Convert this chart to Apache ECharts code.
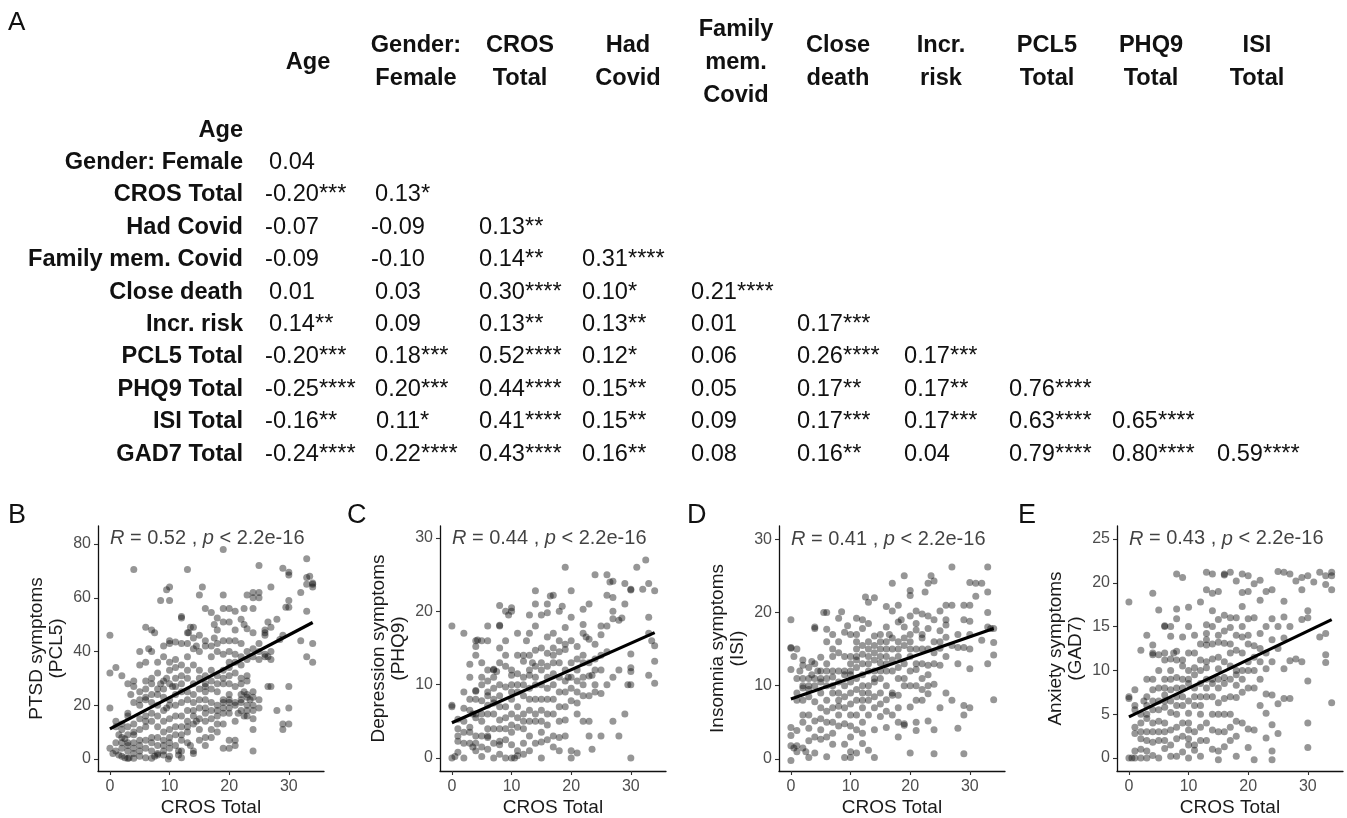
<!DOCTYPE html>
<html><head><meta charset="utf-8">
<script src="https://cdn.jsdelivr.net/npm/echarts@6/dist/echarts.min.js"></script>
<style>html,body{margin:0;padding:0;background:#fff}#c{width:1347px;height:818px}</style>
</head><body><div id="c"></div>
<script>
// ---------- Table data ----------
const rowLabels = ['Age','Gender: Female','CROS Total','Had Covid','Family mem. Covid','Close death','Incr. risk','PCL5 Total','PHQ9 Total','ISI Total','GAD7 Total'];
const colHeaders = ['Age','Gender:\nFemale','CROS\nTotal','Had\nCovid','Family\nmem.\nCovid','Close\ndeath','Incr.\nrisk','PCL5\nTotal','PHQ9\nTotal','ISI\nTotal'];
const corrValues = [
  [],
  ['0.04'],
  ['-0.20','0.13'],
  ['-0.07','-0.09','0.13'],
  ['-0.09','-0.10','0.14','0.31'],
  ['0.01','0.03','0.30','0.10','0.21'],
  ['0.14','0.09','0.13','0.13','0.01','0.17'],
  ['-0.20','0.18','0.52','0.12','0.06','0.26','0.17'],
  ['-0.25','0.20','0.44','0.15','0.05','0.17','0.17','0.76'],
  ['-0.16','0.11','0.41','0.15','0.09','0.17','0.17','0.63','0.65'],
  ['-0.24','0.22','0.43','0.16','0.08','0.16','0.04','0.79','0.80','0.59']
];
const corrStars = [
  [],
  [''],
  ['***','*'],
  ['','','**'],
  ['','','**','****'],
  ['','','****','*','****'],
  ['**','','**','**','','***'],
  ['***','***','****','*','','****','***'],
  ['****','***','****','**','','**','**','****'],
  ['**','*','****','**','','***','***','****','****'],
  ['****','****','****','**','','**','','****','****','****']
];

// ---------- Scatter panels ----------
const panelLetters = ['B','C','D','E'];
const yTitles = ['PTSD symptoms\n(PCL5)','Depression symptoms\n(PHQ9)','Insomnia symptoms\n(ISI)','Anxiety symptoms\n(GAD7)'];
const xTitle = 'CROS Total';
const xTicks = [0,10,20,30];
const yTicksB = [0,20,40,60,80];
const yTicksC = [0,10,20,30];
const yTicksD = [0,10,20,30];
const yTicksE = [0,5,10,15,20,25];
const rValues = ['0.52','0.44','0.41','0.43'];
const pText = '2.2e-16';
const annotY = [82.2, 30, 30, 25];

const fitB = [[0,11.2],[34,50.8]];
const fitC = [[0,4.8],[34,17.1]];
const fitD = [[0,8.2],[34,17.8]];
const fitE = [[0,4.7],[34,15.8]];

const pclPoints = [[19,78],[4,70.5],[13,70.5],[25,72],[33,74.5],[29,71],[30,69.5],[30,68.5],[33,67.5],[33.5,68],[34,65.5],[34,65],[33,65],[32,62],[30,59],[30,56.5],[29.5,56.5],[34,64],[33,55],[34,43],[34,36],[33,38],[32,44],[27,64],[25,62],[24,62],[23,61],[24,60],[25,60],[24,56],[22.5,56],[22,52],[21,55],[20,56],[19,56],[19,61],[15,61],[15.5,64],[10,64],[9.5,63],[8.5,59],[10,59],[12,52.5],[12,53],[13.5,49],[14,49],[13,47],[13.2,47],[16,56],[17,54.5],[18,52.5],[17.5,50],[18,48],[19,51],[20,51],[21,48],[22.5,50],[23,48.5],[24,47],[26,47],[26,48],[26.5,51],[27,49],[28,52],[28.5,44.5],[29,46],[26,46],[25,43],[24,41],[23,40],[22,43],[21,44],[20,44],[19,44],[18,43],[17.5,45],[17,42],[16,42],[15,40],[14.5,42],[14,41],[13,43],[12,43],[11,43.5],[10,44],[10,43],[9,42],[7,48],[7.5,47],[6,49],[6.5,41],[7,40],[5,40],[0,46],[0,32],[1,34],[2,31],[3,28],[4,29],[4,27],[3.5,24],[5,25],[6,23],[6,29],[7,30],[7,28],[8,32],[8.5,28],[9,29],[10,28],[10.5,27],[11,27],[9.5,30],[12,35],[14,35],[15,33],[16,31],[16,28],[17,33],[18,31],[19,30],[20,31],[20,36],[21,32],[22,30],[23,31],[23,29],[22,28],[21,27],[20,28],[19,28],[18,25],[17,26],[16,25],[15,22],[14,21],[13,22],[12,21],[11,20],[10,20],[9.5,19],[9,18],[8,20],[7,21],[6,22],[5,20],[4,21],[3,17],[3,16],[2,13],[1,14],[0,19],[0,4],[0.5,2],[1,3],[1.5,1.5],[2,1],[2.5,0.5],[3,0.2],[3.2,0.5],[4,0.3],[5,1],[6,0.5],[7,0.3],[7.5,1],[8,2],[9,3],[9.8,0],[10,4],[11,5],[11.5,3],[12,3],[12,0.5],[11.5,1.5],[10,1],[9,1.5],[8,1.5],[7,3],[6,4],[5,5],[4,6],[3,6],[2.5,7.5],[2,8],[1.5,9],[1,12],[3,9],[4,9],[4,10],[5,11],[6,12],[7,14],[8,12],[9,10],[10,11],[11,12],[12,12],[13,14],[14,13],[14.5,14],[15,11],[16,14],[16,8],[15,7],[14,3],[13.5,5],[13,10],[13,6],[14,2],[16,5],[17,11],[18,13],[18,16],[17,18],[16,17],[15,19],[19,17],[19,21],[20,19],[20,17],[21,14],[21.5,17],[22,21],[22.5,16],[23,18],[23,24],[23.5,22],[24,20],[24,25],[23,20],[22.5,25],[24,15],[24,11],[24,3],[20,7],[21,7],[21,5],[20,4],[19,4],[25,19],[27,40],[27,37],[26.5,38],[27,27],[26.5,27],[28,18],[29,11],[29,13],[30,13],[30,19],[30,27],[5,35],[6,36],[8,36],[9,38],[11,37],[13,38],[14,45],[15,46],[16,44],[17,38],[18,40],[19,39],[20,40],[21,39],[22,38],[25,37],[26,38],[26,39],[15,30],[14,28],[13,30],[12,25],[11,24],[10,22],[9,23],[8,24],[7,17],[6,16],[5,15],[4,13],[3,12],[2,11],[18,20],[19,22],[20,24],[17,21],[16,22],[22,22],[23,16],[24,23],[25,22],[9,7],[8,8],[10,8],[12,7],[7,8],[5,7],[4,4],[3,5],[2,4],[18,10],[17,8],[19,13],[1,6],[2,6],[3,3],[4,2],[5,3],[6,7],[7,6],[8,5],[9,5],[10,6],[11,9],[12,9],[13,12],[14,16],[15,15],[16,19],[17,15],[18,18],[19,19],[20,22],[21,21],[22,24],[23,23],[24,18],[22,18],[21,20],[20,21],[13,25],[12,28],[11,30],[10,33],[9,26],[8,26],[7,24],[6,26],[5,22],[14,24],[15,26],[16,27],[17,29],[18,28],[19,33],[20,34],[21,36],[22,35],[23,37],[24,38],[25,40],[13,33],[12,31],[11,34],[10,36],[6,14],[8,16],[9,14],[10,15],[11,16],[12,16],[13,18],[14,18]];

const phqPoints = [[0,18],[0,7.2],[0,7],[0,0],[0.5,0.2],[1,0.8],[1,2.3],[1,3],[1,5.3],[2,17],[2,0],[2,2],[2,3.5],[2,6.8],[3,11],[3,12.8],[3,4.2],[3,3.5],[3,2],[3.5,1.5],[3.5,6],[4,14],[4,15.2],[4,16],[4.3,16.1],[4,9.2],[4,9.1],[4,8],[4,5.5],[4,3],[4,2],[4,1],[5,16],[5,11],[5,10],[5,7.8],[5,5],[5,3],[5,0.2],[6,18],[6,16],[6,12],[6,10.5],[6,7.2],[6,6],[6,4],[6,2.8],[6,1.2],[7,12],[7,12.1],[7,9.5],[7,7.5],[7,6],[7,4],[7,0],[7.5,11.8],[8,20.8],[8,18],[8,18.1],[8,13],[8,10],[8,7],[8,4],[8,1.8],[8,2.3],[8,5.2],[9,20],[9,16],[9,12.5],[9,9.7],[9,5.5],[9,2.5],[9,0],[9.5,19.5],[10,20.5],[10,20],[10,12],[10,11.3],[10,10],[10,8],[10,6],[10,3.5],[10,1.8],[10,0],[10.5,0],[11,14],[11,11.5],[11,9],[11,7],[11,4.2],[11,1],[11,0.3],[12,14],[12,13.2],[12,8.5],[12,6],[12,4],[12,2],[12.5,16],[13,19.5],[13,17],[13,14],[13,11.3],[13,8],[13,5],[13,3],[13.5,13],[14,22.8],[14,21],[14,18],[14,14.7],[14,11],[14,8],[14,5],[14,2],[15,19.5],[15,15],[15,12],[15,10],[15,8],[15,5],[15,2.2],[15,0],[16,21],[16,19.8],[16,14.3],[16,11],[16,8],[16,6],[16,4.5],[16.5,22.1],[17,22.2],[17,17],[17,15],[17,13],[17,10],[17,6],[17,3],[18,20],[18,16],[18,13],[18,9],[18,7],[18,5],[18,2.8],[18.5,20.7],[19,26],[19,17.8],[19,14.8],[19,12],[19,7],[19,5.2],[19.5,11],[20,22.8],[20,19.2],[20,13],[20,7.8],[20,1],[20,0],[21,15.2],[21,12],[21,9],[21,6],[21,0.7],[22,20.3],[22,18.2],[22,17],[22,13],[22,8.5],[22,5],[22.5,16.5],[23,21],[23,16.2],[23,11.2],[23,8.5],[23,5],[23,3],[23.5,11.3],[23.5,1.2],[24,25],[24,15.5],[24,10],[24,9],[25,18],[25,16.8],[25,8.8],[25,3],[26,25],[26,22.2],[26,18],[26,14.5],[26.5,24],[27,24.1],[27,21.9],[27,20],[27,19],[27,11],[27,5],[28,18.8],[28,3],[28.5,19.1],[29,23.8],[29,21],[29,6],[29.5,10],[30,23],[30,22.9],[30,14.2],[30,11.8],[30,12.3],[30,10],[30,0],[31,26],[32,23],[32.5,27],[33,23.8],[33,19.2],[33,17],[33,11.3],[33.5,16],[34,22.8],[34,15.3],[34,13.2],[34,10.2],[2,9],[3,8],[5,13],[6,8.5],[7,11],[8,15],[9,14],[11,17],[12,10],[13,9.5],[14,12.5],[15,6.5],[16,16.5],[17,11.5],[18,11],[19,9],[20,16],[21,10.5],[22,11],[24,13.5],[25,12],[26,10],[28,12],[1,4],[2,5],[3,6.5],[4,6],[5,6],[6,9],[7,8],[8,8.5],[9,7],[10,9],[11,10],[12,11],[13,12],[14,10],[15,13],[16,12.5],[17,14],[18,14.5],[19,15.5],[20,11],[21,13.5],[22,14],[23,13],[24,12],[25,14],[9,4],[10,4.5],[11,5.5],[12,5],[13,6.5],[14,6],[15,3.5],[16,2.5],[17,1.5],[18,1],[19,3],[7,2],[6,3],[5,1.5],[8,0.5],[12,0.5],[13,1],[20,9.5],[21,7.5],[22,10],[19,10.5],[17,8],[16,9.5]];

const isiPoints = [[0,19],[0,15.2],[0,15.1],[0,12.2],[0,4.3],[0,3.2],[0,1.8],[0,-0.2],[0.5,14],[0.5,1.5],[1,15],[1,9],[1,8],[1,3.9],[1,1.8],[1,1],[1.5,12],[2,12.8],[2,10],[2,9.7],[2,8],[2,6],[2,5],[2,1.5],[2.5,1],[3,12.5],[3,11],[3,8.5],[3,6],[3,4.2],[3,2.5],[3,0.2],[3.5,13.3],[3.5,11.5],[4,18],[4,17.8],[4,11],[4,10],[4,7.8],[4,5.2],[4,0.8],[4.5,12],[5,13.9],[5,12],[5,9],[5,7],[5,4],[5,2.7],[5.5,20],[6,20],[6,17.7],[6,16],[6,12],[6,10],[6,8],[6,5],[6,3],[6,0.3],[7,17],[7,14],[7,12],[7,11.2],[7,9],[7,7],[7,5],[7,2],[8,19.2],[8,16],[8,14.5],[8,12],[8,9],[8,7.2],[8,6],[8,4.5],[8.5,20.1],[9,17.3],[9,14],[9,10],[9,7],[9,4.8],[9,2],[9,0.2],[9.5,18.2],[10,17],[10,14],[10,13],[10,10.5],[10,9],[10,6],[10,3],[10,1],[10,0.2],[11,19.2],[11,17],[11,16],[11,15],[11,12.5],[11,11],[11,8],[11,6],[11,4],[11,0.8],[12,19],[12,17.8],[12,14.3],[12,13],[12,10],[12,9],[12,7],[12,5],[12,2.1],[12.5,22.1],[13,21.4],[13,18.5],[13,16],[13,14],[13,12],[13,10],[13,8],[13,6],[13,1.2],[14,22],[14,16.8],[14,15.5],[14,13.5],[14,12],[14,10.5],[14,7],[14,0.2],[15,17],[15,15],[15,13.1],[15,11],[15,9],[15,5.8],[16,20.8],[16,18],[16,16],[16,14],[16,12],[16,10],[16,8.1],[16,4.3],[16.5,17],[17,24],[17,20.2],[17,15],[17,12],[17,9],[17,8.7],[18,21],[18,18.7],[18,16],[18,14],[18,11],[18,8.7],[18,7],[18,3],[18.5,19],[19,25],[19,18],[19,13],[19,10],[19,4.8],[19,4.6],[20,23],[20,22.3],[20,19.5],[20,17],[20,15],[20,12],[20,7.1],[20,0.8],[21,20.2],[21,17.6],[21,15],[21,12.2],[21,10],[21,5],[21,3.9],[22,19.8],[22,17],[22,15],[22,11],[22,8],[22.5,22.8],[23,24],[23,19.5],[23,17.8],[23,12.8],[23,10],[23,8.9],[23,5.2],[23.5,25],[24,24.3],[24,19],[24,16],[24,10.2],[24,4],[24,0.7],[25,20.2],[25,17.5],[25,15.1],[25,12.8],[25,7],[26,21],[26,19],[26,18.3],[26,16.6],[26,9],[27,26.2],[27,21],[27,15.5],[27,8],[28,17],[28,15.2],[28,4.2],[29,21],[29,19],[29,15.2],[29,7.3],[29,6],[29,0.7],[30,24.1],[30,21],[30,18.8],[30,17],[30,15],[30,12.3],[30,7],[31,24],[31,22.2],[32,24],[32,16.2],[33,26.2],[33,22.8],[33,20],[33,18],[33,13],[33.5,17.8],[34,17.8],[34,15.9],[34,14.2],[34,8.1],[2,11],[3,10],[5,11],[6,13],[7,15],[9,12],[10,11.5],[11,13.5],[12,11.5],[13,15],[14,14.5],[15,16],[15,12],[16,13],[17,13.5],[18,12.5],[19,15.5],[20,14],[21,13],[22,13],[24,13],[26,14],[28,13],[1,11],[2,13.5],[3,9.5],[4,13],[5,10.5],[6,11],[7,10],[8,10.5],[9,11.5],[10,12],[11,14],[12,15.5],[13,13],[14,11],[15,14],[16,15],[17,16.5],[18,15],[19,16.5],[20,16],[21,18.5],[22,16.5],[23,15],[24,14.5],[25,16],[8,8],[9,8.5],[10,7.5],[11,9.5],[12,8],[13,9],[14,8.5],[15,7.5],[16,6.5],[17,6],[18,5],[6,6.5],[5,5.5],[4,3],[7,3.5],[10,4.5],[12,3.5],[14,4],[19,11],[20,10],[21,8],[22,9.5],[23,11.5]];

const gadPoints = [[0,17.8],[0,7],[0,6.8],[0,0],[0.5,0],[1,7.8],[1,6],[1,5.5],[1,2.8],[1,0.8],[1,0],[2,12.3],[2,5],[2,3],[2,2.2],[2,1],[2,0],[2.5,6.5],[3,14],[3,7],[3,6],[3,4.5],[3,3],[3,2],[3,0.8],[3,0],[4,18.8],[4,12.9],[4,12],[4,11.8],[4,9],[4,7.8],[4,5.5],[4,4],[4,3],[4,1.8],[4,0.3],[5,16.9],[5,11.8],[5,8],[5,6.5],[5,4.2],[5,2],[5,0],[6,15.1],[6,15],[6,12],[6,11.2],[6,9],[6,7.2],[6,5.8],[6,4],[6,3],[6,1.1],[7,15],[7,13.9],[7,11.3],[7,9],[7,7.8],[7,5.2],[7,3.2],[7,0.2],[7.5,12],[8,21],[8,17],[8,15.9],[8,12.2],[8,11.2],[8,9.2],[8,7],[8,5],[8,2.2],[8,0.2],[9,20.6],[9,13.8],[9,11.2],[9,9],[9,8],[9,6],[9,4],[9,0.7],[10,17.2],[10,15],[10,10],[10,9],[10,8.5],[10,5.1],[10,4],[10,3.2],[10,2.2],[10,0],[11,14],[11,12],[11,10.3],[11,8],[11,6],[11,1.5],[11,0.9],[12,17.8],[12,11.2],[12,10],[12,7],[12,5],[12,2],[12,0.2],[13,21.2],[13,19.2],[13,15.2],[13,14.2],[13,12.9],[13,11],[13,9],[13,7],[13,4],[14,21],[14,18.8],[14,16.8],[14,13],[14,11.3],[14,7],[14,3.2],[14,1],[15,19],[15,15.8],[15,13.2],[15,10.2],[15,8],[15,6.3],[15,3],[15,0.8],[15,-0.2],[16,21],[16,20.9],[16,16.3],[16,13.1],[16,9.2],[16,6.8],[16,5],[16,1.3],[17,21.2],[17,16],[17,14.9],[17,12],[17,9],[17,5],[17,2],[18,20.2],[18,16],[18,12.3],[18,8.3],[18,6.9],[18,4.2],[18,0.2],[19,21],[19,18.9],[19,17.3],[19,13.8],[19,10],[19,7.5],[19,4],[20,20.8],[20,19],[20,15.9],[20,14],[20,8],[20,3.3],[20,1.2],[21,19.9],[21,16],[21,12.8],[21,10],[21,3.2],[21,-0.2],[22,20.3],[22,18],[22,14.2],[22,12.5],[22,6],[23,19],[23,15],[23,10.2],[23,7.3],[23,5.1],[23,2.3],[24,19.2],[24,15.9],[24,11],[24,7.2],[24,3.8],[24,0.8],[24,-0.2],[25,21.3],[25,15],[25,6.2],[25,2.8],[26,21.2],[26,17.9],[26,16.1],[26,13.7],[26,10.2],[26,6.8],[27,21],[27,15],[27,11.1],[27,6.8],[28,20.2],[28,11.3],[29,20.6],[29,19.2],[29,15.8],[29,11],[30,20.8],[30,16.8],[30,16],[30,8.8],[30,4],[30,1.2],[31,20.1],[32,21.2],[32,13.8],[33,20.8],[33,19.8],[33,14.2],[33,11.8],[33,10.9],[34,21.2],[34,20.8],[34,19.2],[34,6.3],[3,9],[5,10],[7,10],[9,10.5],[11,9.5],[12,8.5],[13,10.3],[14,9],[15,11.5],[16,11],[17,10.5],[18,10],[19,12],[20,11],[21,8],[22,9],[12,13],[10,12],[8,6],[6,8],[1,3.5],[2,4],[3,5],[4,6.5],[5,5.5],[6,6.5],[7,6.5],[8,8],[9,7],[10,6.5],[11,7],[12,6],[13,8],[14,8.5],[15,9],[16,8.5],[17,7],[18,9.5],[19,9],[20,10],[21,11.5],[22,11],[23,12],[24,13.5],[25,12.5],[9,2.5],[10,1.5],[11,3],[12,3.5],[13,2],[14,5],[15,5],[16,3],[17,3.5],[18,2.5],[7,1.5],[8,3.5],[5,3],[6,2],[13,13.5],[14,15],[15,14],[16,14.5],[17,13],[18,14],[19,15],[20,13]];

// ---------- Build ----------
const FONT = '"Liberation Sans", Arial, Helvetica, sans-serif';
const chart = echarts.init(document.getElementById('c'), null, {renderer:'canvas', width:1347, height:818});

const mctx = document.createElement('canvas').getContext('2d');
function tw(t, f){ mctx.font = f; return mctx.measureText(t).width; }

const graphics = [];
const headerX = [308,416,520,628,736,838,941,1047,1151,1257];
const numCenter = [292,398,502,605,714,820,927,1032,1135,1240];
const rowY0 = 130, rowStep = 32.4;
const boldF = 'bold 23.6px ' + FONT, regF = '23.6px ' + FONT;

graphics.push({type:'text', x:8, y:23, style:{text:'A', font:'26px '+FONT, fill:'#111', align:'left', verticalAlign:'middle'}});
colHeaders.forEach((h,i)=>{
  graphics.push({type:'text', x:headerX[i], y:62, style:{text:h, font:boldF, fill:'#111', align:'center', verticalAlign:'middle', lineHeight:33}});
});
rowLabels.forEach((r,i)=>{
  graphics.push({type:'text', x:243, y:rowY0+i*rowStep, style:{text:r, font:boldF, fill:'#111', align:'right', verticalAlign:'middle'}});
});
corrValues.forEach((row,i)=>{
  row.forEach((v,j)=>{
    const w = tw(v, regF);
    const x0 = numCenter[j] - w/2;
    const y = rowY0 + i*rowStep;
    graphics.push({type:'text', x:x0, y:y, style:{text:v, font:regF, fill:'#111', align:'left', verticalAlign:'middle'}});
    if (corrStars[i][j]) graphics.push({type:'text', x:x0+w, y:y, style:{text:corrStars[i][j], font:regF, fill:'#111', align:'left', verticalAlign:'middle'}});
  });
});

const gridLefts = [98,440,779,1117];
const letterX = [8,347,687,1018];
panelLetters.forEach((l,i)=>{
  graphics.push({type:'text', x:letterX[i], y:516, style:{text:l, font:'27px '+FONT, fill:'#111', align:'left', verticalAlign:'middle'}});
});

const yRanges = [[-4.47,86.7],[-1.77,31.64],[-1.64,31.8],[-1.48,26.48]];
const yTickSets = [yTicksB, yTicksC, yTicksD, yTicksE];
const pointSets = [pclPoints, phqPoints, isiPoints, gadPoints];
const fits = [fitB, fitC, fitD, fitE];

const grids=[], xAxes=[], yAxes=[], series=[];
for (let i=0;i<4;i++){
  grids.push({left:gridLefts[i], top:526, width:226, height:245, containLabel:false});
  xAxes.push({type:'value', gridIndex:i, min:-2.0, max:35.9,
    name:xTitle, nameLocation:'middle', nameGap:27, nameTextStyle:{fontFamily:FONT, fontSize:19, color:'#1a1a1a'},
    axisLine:{show:true, onZero:false, lineStyle:{color:'#111', width:1.3}},
    axisTick:{show:true, length:4, customValues:xTicks, lineStyle:{color:'#333', width:1.1}},
    axisLabel:{customValues:xTicks, fontFamily:FONT, fontSize:16, color:'#4d4d4d', margin:8},
    splitLine:{show:false}});
  yAxes.push({type:'value', gridIndex:i, min:yRanges[i][0], max:yRanges[i][1],
    name:yTitles[i], nameLocation:'middle', nameGap:31, nameRotate:90,
    nameTextStyle:{fontFamily:FONT, fontSize:19, color:'#1a1a1a', lineHeight:20},
    axisLine:{show:true, onZero:false, lineStyle:{color:'#111', width:1.3}},
    axisTick:{show:true, length:4, customValues:yTickSets[i], lineStyle:{color:'#333', width:1.1}},
    axisLabel:{customValues:yTickSets[i], fontFamily:FONT, fontSize:16, color:'#4d4d4d', margin:7},
    splitLine:{show:false}});
  series.push({type:'scatter', xAxisIndex:i, yAxisIndex:i, data:pointSets[i], symbolSize:7,
    itemStyle:{color:'rgba(15,15,15,0.55)'}, silent:true, z:2});
  series.push({type:'line', xAxisIndex:i, yAxisIndex:i, data:fits[i], showSymbol:false, symbol:'none',
    lineStyle:{color:'#000', width:3.2}, z:3, silent:true});
  series.push({type:'scatter', xAxisIndex:i, yAxisIndex:i, data:[[0, annotY[i]]], symbolSize:0, z:4, silent:true,
    label:{show:true, position:'right', distance:0, fontFamily:FONT, fontSize:20, color:'#111',
      formatter:'{i|R} = ' + rValues[i] + ' , {i|p} < ' + pText,
      rich:{i:{fontStyle:'italic', fontFamily:FONT, fontSize:20, color:'#111'}}}});
}

chart.setOption({animation:false, backgroundColor:'#fff', grid:grids, xAxis:xAxes, yAxis:yAxes, series:series, graphic:graphics});
</script></body></html>
